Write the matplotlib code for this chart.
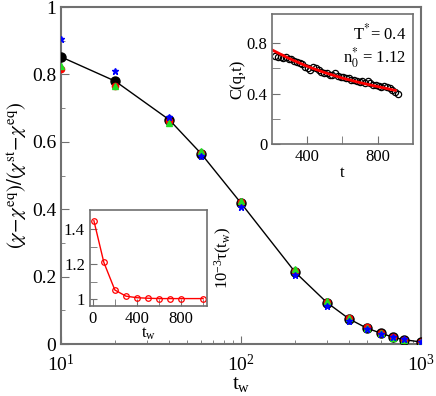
import numpy as np
import matplotlib
matplotlib.use('Agg')
import matplotlib.pyplot as plt
from matplotlib.ticker import MultipleLocator, FixedLocator

plt.rcParams['font.family'] = ['Liberation Serif', 'DejaVu Serif']
plt.rcParams['mathtext.fontset'] = 'stix'

# main panel: normalized susceptibility vs waiting time
tw = [10, 20, 40, 60, 100, 200, 300, 400, 500, 600, 700, 800, 1000]
chi_black = [0.852, 0.780, 0.665, 0.565, 0.418, 0.213, 0.123, 0.074, 0.047, 0.032, 0.020, 0.013, 0.006]
chi_red = [0.816, 0.766, 0.662, 0.568, 0.420, 0.216, 0.126, 0.076, 0.049, 0.034, 0.021, 0.012, 0.005]
chi_green = [0.824, 0.765, 0.656, 0.573, 0.425, 0.222, 0.128, 0.078, 0.048, 0.033, 0.019, 0.011, 0.006]
chi_blue = [0.906, 0.809, 0.675, 0.558, 0.407, 0.204, 0.113, 0.069, 0.046, 0.031, 0.020, 0.015, 0.007]

# upper inset: correlation function and fit
t_c = [217, 232, 248, 263, 279, 294, 310, 325, 341, 356, 372, 387, 403, 418, 434,
       449, 465, 480, 496, 511, 527, 542, 558, 573, 589, 604, 620, 635, 651, 666,
       682, 697, 713, 728, 744, 759, 775, 790, 806, 821, 837, 852, 868, 883, 899, 914]
c_data = [0.70, 0.69, 0.69, 0.68, 0.69, 0.67, 0.67, 0.66, 0.65, 0.64, 0.63, 0.61,
          0.60, 0.59, 0.61, 0.60, 0.59, 0.57, 0.56, 0.56, 0.55, 0.55, 0.56, 0.54,
          0.53, 0.53, 0.52, 0.52, 0.51, 0.51, 0.50, 0.49, 0.50, 0.48, 0.50, 0.48,
          0.47, 0.47, 0.46, 0.45, 0.46, 0.45, 0.44, 0.43, 0.41, 0.40]
t_fit = [200, 300, 400, 500, 600, 700, 800, 900]
c_fit = [0.745, 0.675, 0.615, 0.565, 0.522, 0.486, 0.455, 0.425]

# lower inset: relaxation time vs waiting time
tw_tau = [10, 100, 200, 300, 400, 500, 600, 700, 800, 1000]
tau = [1.448, 1.210, 1.052, 1.017, 1.008, 1.005, 1.003, 1.003, 1.003, 1.003]

spine_c = '#707070'

def style(ax, lw=1.5):
    for s in ax.spines.values():
        s.set_color(spine_c)
        s.set_linewidth(lw)
    ax.tick_params(which='both', direction='in', color=spine_c, top=False, right=False)

fig = plt.figure(figsize=(4.36, 3.96), dpi=100)
ax = fig.add_axes([0.14, 0.1313, 0.8256, 0.851])
ax.plot(tw, chi_black, '-', color='black', lw=1.0, zorder=2)
ax.plot(tw, chi_black, 'o', color='black', ms=6.5, zorder=3)
ax.plot(tw, chi_red, 'o', color='red', ms=4.5, zorder=4)
ax.plot(tw, chi_green, '^', color='#22dd22', ms=5, zorder=5)
ax.plot(tw, chi_blue, '*', color='blue', ms=5, zorder=6)
ax.set_xscale('log')
ax.set_xlim(10, 1000)
ax.set_ylim(0, 1)
ax.set_yticks([0, 0.2, 0.4, 0.6, 0.8, 1])
ax.set_yticklabels(['0', '0.2', '0.4', '0.6', '0.8', '1'])
ax.yaxis.set_minor_locator(MultipleLocator(0.1))
style(ax)
ax.tick_params(which='major', length=6, labelsize=14)
ax.tick_params(which='minor', length=3)
ax.tick_params(axis='x', which='major', pad=7)
ax.set_xlabel(r'$\mathregular{t_w}$', fontsize=15, labelpad=0)
ax.set_ylabel(r'$(\chi\!-\!\chi^{\rm eq})/(\chi^{\rm st}\!-\!\chi^{\rm eq})$', fontsize=15, labelpad=2)

# upper inset
a1 = fig.add_axes([0.624, 0.636, 0.323, 0.329])
a1.plot(t_c, c_data, 'o', mfc='none', mec='black', ms=4.5, mew=0.9)
a1.plot(t_fit, c_fit, '-', color='red', lw=2)
a1.set_xlim(200, 1000)
a1.set_ylim(0, 1.03)
a1.set_xticks([400, 800])
a1.xaxis.set_minor_locator(FixedLocator([600]))
a1.set_yticks([0, 0.4, 0.8])
a1.set_yticklabels(['0', '0.4', '0.8'])
a1.yaxis.set_minor_locator(FixedLocator([0.2, 0.6]))
style(a1, 1.2)
a1.tick_params(which='major', length=6, labelsize=12)
a1.tick_params(which='minor', length=6)
a1.set_xlabel('t', fontsize=12, labelpad=0)
a1.set_ylabel('C(q,t)', fontsize=12, labelpad=1)
a1.text(0.95, 0.93, r'T$^{*}$= 0.4', transform=a1.transAxes, ha='right', va='top', fontsize=12)
a1.text(0.95, 0.76, r'n$_0^{*}$ = 1.12', transform=a1.transAxes, ha='right', va='top', fontsize=12)

# lower inset
a2 = fig.add_axes([0.206, 0.227, 0.269, 0.243])
a2.plot(tw_tau, tau, '-o', color='red', mfc='none', mec='red', ms=4, lw=1, mew=0.9)
a2.set_xlim(-27, 1036)
a2.set_ylim(0.96, 1.51)
a2.set_xticks([0, 400, 800])
a2.xaxis.set_minor_locator(FixedLocator([200, 600, 1000]))
a2.set_yticks([1, 1.2, 1.4])
a2.set_yticklabels(['1', '1.2', '1.4'])
a2.yaxis.set_minor_locator(FixedLocator([1.1, 1.3]))
style(a2, 1.2)
a2.tick_params(which='major', length=5, labelsize=12)
a2.tick_params(which='minor', length=5)
a2.set_xlabel(r'$\mathregular{t_w}$', fontsize=12, labelpad=-1)
a2.yaxis.set_label_position('right')
a2.set_ylabel(r'$\mathregular{10^{-3}\tau(t_w)}$', fontsize=12, labelpad=4)

fig.savefig('out.png', dpi=100)
